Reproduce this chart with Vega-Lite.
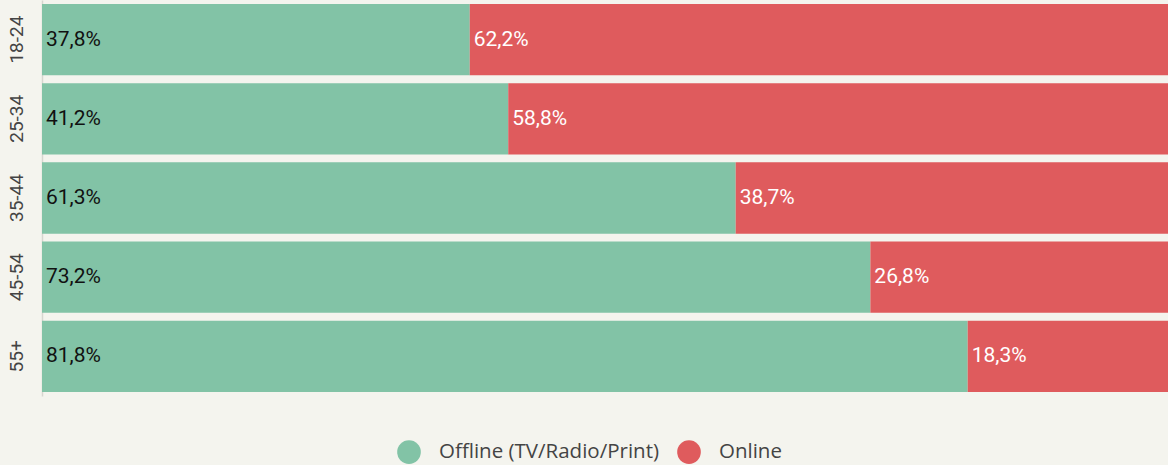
{
  "$schema": "https://vega.github.io/schema/vega-lite/v6.json",
  "width": 1126,
  "height": 396,
  "autosize": "none",
  "padding": {"left": 42, "top": 0, "right": 0, "bottom": 69},
  "background": "#f4f4ee",
  "config": {
    "view": {"stroke": null},
    "font": "Roboto"
  },
  "data": {
    "values": [
      {"age": "18-24", "type": "Offline (TV/Radio/Print)", "value": 37.8, "label": "37,8%"},
      {"age": "18-24", "type": "Online", "value": 62.2, "label": "62,2%"},
      {"age": "25-34", "type": "Offline (TV/Radio/Print)", "value": 41.2, "label": "41,2%"},
      {"age": "25-34", "type": "Online", "value": 58.8, "label": "58,8%"},
      {"age": "35-44", "type": "Offline (TV/Radio/Print)", "value": 61.3, "label": "61,3%"},
      {"age": "35-44", "type": "Online", "value": 38.7, "label": "38,7%"},
      {"age": "45-54", "type": "Offline (TV/Radio/Print)", "value": 73.2, "label": "73,2%"},
      {"age": "45-54", "type": "Online", "value": 26.8, "label": "26,8%"},
      {"age": "55+", "type": "Offline (TV/Radio/Print)", "value": 81.8, "label": "81,8%"},
      {"age": "55+", "type": "Online", "value": 18.3, "label": "18,3%"}
    ]
  },
  "transform": [
    {"stack": "value", "groupby": ["age"], "sort": [{"field": "type", "order": "ascending"}], "as": ["v0", "v1"]}
  ],
  "encoding": {
    "y": {
      "field": "age",
      "type": "nominal",
      "sort": ["18-24", "25-34", "35-44", "45-54", "55+"],
      "scale": {"paddingInner": 0.1, "paddingOuter": 0.05},
      "axis": {
        "title": null,
        "labelAngle": -90,
        "labelAlign": "center",
        "labelBaseline": "bottom",
        "labelFontSize": 19,
        "labelColor": "#444444",
        "labelPadding": 16,
        "ticks": false,
        "domainColor": "#d6d6d0",
        "domainWidth": 1.5
      }
    }
  },
  "layer": [
    {
      "mark": {"type": "bar", "clip": true},
      "encoding": {
        "x": {"field": "v0", "type": "quantitative", "scale": {"domain": [0, 99.5], "nice": false, "zero": false}, "axis": null},
        "x2": {"field": "v1"},
        "color": {
          "field": "type",
          "type": "nominal",
          "scale": {"domain": ["Offline (TV/Radio/Print)", "Online"], "range": ["#82c3a6", "#df5b5d"]},
          "legend": {
            "title": null,
            "orient": "none",
            "legendX": 355,
            "legendY": 440,
            "direction": "horizontal",
            "symbolType": "circle",
            "symbolSize": 560,
            "symbolStrokeWidth": 0,
            "labelFont": "Open Sans",
            "labelFontSize": 20.5,
            "labelColor": "#444444",
            "labelLimit": 0,
            "labelOffset": 18,
            "columnPadding": 18
          }
        }
      }
    },
    {
      "mark": {"type": "text", "align": "left", "baseline": "middle", "dx": 4, "fontSize": 21, "clip": true},
      "encoding": {
        "x": {"field": "v0", "type": "quantitative"},
        "text": {"field": "label"},
        "color": {
          "condition": {"test": "datum.type === 'Online'", "value": "#ffffff"},
          "value": "#111111"
        }
      }
    }
  ]
}
